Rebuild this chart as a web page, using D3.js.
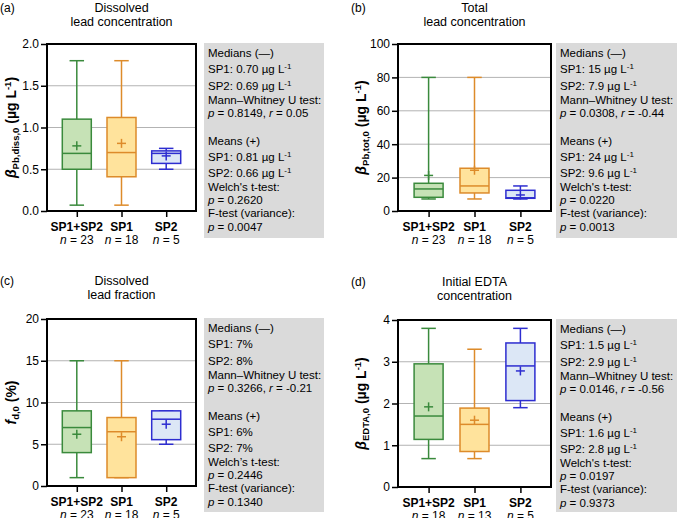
<!DOCTYPE html>
<html>
<head>
<meta charset="utf-8">
<style>
    body { margin: 0; background: white; }
    svg { display: block; font-family: 'Liberation Sans', Arial, Helvetica, sans-serif; }
</style>
</head>
<body>
<svg width="677" height="518"></svg>
<script src="https://d3js.org/d3.v7.min.js"></script>
<script>
    // groups shown on the x axis
    let groups = ["SP1+SP2", "SP1", "SP2"]

    // sample sizes per panel
    let nA = [23, 18, 5]
    let nB = [23, 18, 5]
    let nC = [23, 18, 5]
    let nD = [18, 13, 5]

    // box stats per group: [min, q1, median, q3, max, mean]
    let boxA = [[0.07, 0.50, 0.69, 1.10, 1.80, 0.78], [0.07, 0.41, 0.70, 1.12, 1.80, 0.81], [0.50, 0.57, 0.69, 0.72, 0.75, 0.66]]
    let boxB = [[7.2, 8.2, 13.2, 16.6, 80, 21.3], [7.2, 10.8, 15, 25.6, 80, 24.4], [7.2, 7.6, 7.9, 12.4, 15, 9.6]]
    let boxC = [[1.0, 4.0, 7.0, 9.0, 15, 6.2], [1.0, 1.0, 6.5, 8.2, 15, 5.9], [5.0, 5.55, 8.0, 9.0, 9.0, 7.4]]
    let boxD = [[0.68, 1.14, 1.70, 2.95, 3.80, 1.92], [0.68, 0.85, 1.50, 1.89, 3.30, 1.60], [1.90, 2.07, 2.90, 3.45, 3.80, 2.78]]

    // y axis ticks
    let ticksA = [0, 0.5, 1.0, 1.5, 2.0]
    let ticksB = [0, 20, 40, 60, 80, 100]
    let ticksC = [0, 5, 10, 15, 20]
    let ticksD = [0, 1, 2, 3, 4]

    // stats text (*x* = italic, ^{..} = superscript)
    let statsA = ["Medians (—)", "SP1: 0.70 µg L^{-1}", "SP2: 0.69 µg L^{-1}", "Mann–Whitney U test:", "*p* = 0.8149, *r* = 0.05",
        "Means (+)", "SP1: 0.81 µg L^{-1}", "SP2: 0.66 µg L^{-1}", "Welch's t-test:", "*p* = 0.2620", "F-test (variance):", "*p* = 0.0047"]
    let statsB = ["Medians (—)", "SP1: 15 µg L^{-1}", "SP2: 7.9 µg L^{-1}", "Mann–Whitney U test:", "*p* = 0.0308, *r* = -0.44",
        "Means (+)", "SP1: 24 µg L^{-1}", "SP2: 9.6 µg L^{-1}", "Welch's t-test:", "*p* = 0.0220", "F-test (variance):", "*p* = 0.0013"]
    let statsC = ["Medians (—)", "SP1: 7%", "SP2: 8%", "Mann–Whitney U test:", "*p* = 0.3266, *r* = -0.21",
        "Means (+)", "SP1: 6%", "SP2: 7%", "Welch’s t-test:", "*p* = 0.2446", "F-test (variance):", "*p* = 0.1340"]
    let statsD = ["Medians (—)", "SP1: 1.5 µg L^{-1}", "SP2: 2.9 µg L^{-1}", "Mann–Whitney U test:", "*p* = 0.0146, *r* = -0.56",
        "Means (+)", "SP1: 1.6 µg L^{-1}", "SP2: 2.8 µg L^{-1}", "Welch's t-test:", "*p* = 0.0197", "F-test (variance):", "*p* = 0.9373"]

    let strokes = ["#3a8a3c", "#dd8b2a", "#2d2dd0"]
    let fills = ["#c6e2b6", "#ffe39c", "#dce7f6"]

    let panels = [
        { letter: "(a)", title: ["Dissolved", "lead concentration"], sym: "β", sub: "Pb,diss,0", unit: " (µg L", sup: "-1", tail: ")",
          box: boxA, n: nA, ticks: ticksA, fmt: ".1f", stats: statsA, x: 47, y: 44, w: 149, h: 167, sx: 204, sw: 120, sh: 195, lx: 0, ty: 0, yl: 16 },
        { letter: "(b)", title: ["Total", "lead concentration"], sym: "β", sub: "Pb,tot,0", unit: " (µg L", sup: "-1", tail: ")",
          box: boxB, n: nB, ticks: ticksB, fmt: "d", stats: statsB, x: 398, y: 44, w: 153, h: 167, sx: 556, sw: 121, sh: 195, lx: 351, ty: 0, yl: 366 },
        { letter: "(c)", title: ["Dissolved", "lead fraction"], sym: "f", sub: "d,0", unit: " (%)", sup: "", tail: "",
          box: boxC, n: nC, ticks: ticksC, fmt: "d", stats: statsC, x: 47, y: 319, w: 149, h: 167, sx: 204, sw: 120, sh: 194, lx: 0, ty: 273, yl: 16 },
        { letter: "(d)", title: ["Initial EDTA", "concentration"], sym: "β", sub: "EDTA,0", unit: " (µg L", sup: "-1", tail: ")",
          box: boxD, n: nD, ticks: ticksD, fmt: "d", stats: statsD, x: 398, y: 320, w: 153, h: 167, sx: 556, sw: 121, sh: 193, lx: 351, ty: 274, yl: 366 }
    ]

    // vertical centre of each stats line, from top of the grey box
    let lineY = [10, 26, 43, 56.5, 70, 98, 114, 130, 143.5, 157, 170, 184]

    let svg = d3.select("svg")

    function richText(sel, str) {
        let parts = str.split(/(\*[^*]+\*|\^\{[^}]+\})/).filter(s => s.length)
        let shift = 0
        parts.forEach(p => {
            if (p[0] == "^") {
                sel.append("tspan").attr("dy", -4.5 - shift).style("font-size", "8px").text(p.slice(2, -1))
                shift = -4.5
                return
            }
            let t = sel.append("tspan").attr("dy", -shift)
            shift = 0
            if (p[0] == "*") t.style("font-style", "italic").text(p.slice(1, -1))
            else t.text(p)
        })
    }

    panels.forEach(p => {
        let g = svg.append("g")
        let max = p.ticks[p.ticks.length - 1]

        let y = d3.scaleLinear().domain([0, max]).range([p.y + p.h, p.y])
        let x = d3.scalePoint().domain(groups).range([p.x + 0.2 * p.w, p.x + 0.8 * p.w])
        let bw = 29

        // panel letter + title
        g.append("text").attr("x", p.lx).attr("y", 11.5 + p.ty)
            .style("font-size", "12px").text(p.letter)
        p.title.forEach((t, i) => {
            g.append("text").attr("x", p.x + p.w / 2).attr("y", 11.5 + p.ty + i * 14.5)
                .attr("text-anchor", "middle").style("font-size", "12.5px").text(t)
        })

        // gridlines
        g.selectAll(".grid").data(p.ticks.slice(1, -1)).join("line")
            .attr("x1", p.x).attr("x2", p.x + p.w)
            .attr("y1", d => y(d)).attr("y2", d => y(d))
            .style("stroke", "#b3b3b3").style("stroke-width", 1)

        // y axis
        let yAxis = d3.axisLeft(y).tickValues(p.ticks).tickFormat(d3.format(p.fmt)).tickSize(6).tickPadding(2)
        let ya = g.append("g").attr("transform", `translate(${p.x},0)`).call(yAxis)
        ya.select(".domain").remove()
        ya.selectAll("line").style("stroke", "#000").style("stroke-width", 1.5)
        ya.selectAll("text").style("font-size", "12px").style("font-family", "'Liberation Sans', Arial, sans-serif").style("fill", "#000")

        // x axis
        let xAxis = d3.axisBottom(x).tickSize(6).tickFormat("")
        let xa = g.append("g").attr("transform", `translate(0,${p.y + p.h})`).call(xAxis)
        xa.select(".domain").remove()
        xa.selectAll("line").style("stroke", "#000").style("stroke-width", 1.5)

        groups.forEach((d, i) => {
            g.append("text").attr("x", x(d)).attr("y", p.y + p.h + 19.5)
                .attr("text-anchor", "middle").style("font-size", "12px").style("font-weight", "bold").text(d)
            let t = g.append("text").attr("x", x(d)).attr("y", p.y + p.h + 32.5)
                .attr("text-anchor", "middle").style("font-size", "12px")
            t.append("tspan").style("font-style", "italic").text("n")
            t.append("tspan").text(" = " + p.n[i])
        })

        // boxes
        p.box.forEach((b, i) => {
            let cx = x(groups[i])
            let s = strokes[i]
            let bg = g.append("g").style("stroke", s).style("stroke-width", 1.5).style("fill", "none")
            bg.append("line").attr("x1", cx).attr("x2", cx).attr("y1", y(b[0])).attr("y2", y(b[4]))
            bg.append("line").attr("x1", cx - bw / 4).attr("x2", cx + bw / 4).attr("y1", y(b[0])).attr("y2", y(b[0]))
            bg.append("line").attr("x1", cx - bw / 4).attr("x2", cx + bw / 4).attr("y1", y(b[4])).attr("y2", y(b[4]))
            bg.append("rect").attr("x", cx - bw / 2).attr("width", bw)
                .attr("y", y(b[3])).attr("height", y(b[1]) - y(b[3]))
                .style("fill", fills[i])
            bg.append("line").attr("x1", cx - bw / 2).attr("x2", cx + bw / 2).attr("y1", y(b[2])).attr("y2", y(b[2]))
            // mean +
            bg.append("line").attr("x1", cx - 4.5).attr("x2", cx + 4.5).attr("y1", y(b[5])).attr("y2", y(b[5]))
            bg.append("line").attr("x1", cx).attr("x2", cx).attr("y1", y(b[5]) - 4.5).attr("y2", y(b[5]) + 4.5)
        })

        // frame
        g.append("rect").attr("x", p.x).attr("y", p.y).attr("width", p.w).attr("height", p.h)
            .style("fill", "none").style("stroke", "#000").style("stroke-width", 2)

        // y title
        let yt = g.append("text")
            .attr("transform", `translate(${p.yl},${p.y + p.h / 2}) rotate(-90)`)
            .attr("text-anchor", "middle").style("font-size", "14px").style("font-weight", "bold")
        yt.append("tspan").style("font-style", "italic").text(p.sym)
        yt.append("tspan").attr("dy", 3).style("font-size", "9.5px").text(p.sub)
        yt.append("tspan").attr("dy", -3).text(p.unit)
        if (p.sup) {
            yt.append("tspan").attr("dy", -5).style("font-size", "9.5px").text(p.sup)
            yt.append("tspan").attr("dy", 5).text(p.tail)
        }

        // stats box
        let top = p.y - 1
        g.append("rect").attr("x", p.sx).attr("y", top).attr("width", p.sw).attr("height", p.sh)
            .style("fill", "#dadada")
        p.stats.forEach((s, i) => {
            let t = g.append("text").attr("x", p.sx + 4).attr("y", top + lineY[i] + 4)
                .style("font-size", "11.5px").style("fill", "#000")
            richText(t, s)
        })
    })
</script>
</body>
</html>
